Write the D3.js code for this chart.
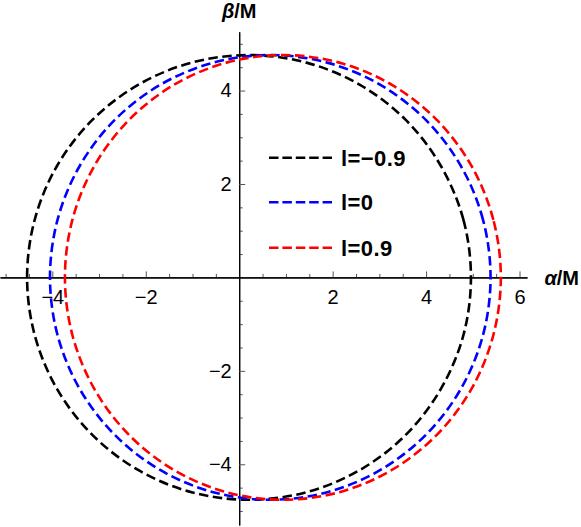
<!DOCTYPE html>
<html>
<head>
<meta charset="utf-8">
<script src="https://cdn.jsdelivr.net/npm/d3@7"></script>
<style>
  body { margin: 0; background: #fff; }
  svg { display: block; font-family: "Liberation Sans", Arial, sans-serif; }
</style>
</head>
<body>
<div id="figure-div"></div>
<script>
// upper half of each shadow curve, [alpha, beta] (lower half is the mirror)
var shadowNeg = [[4.96,0],[4.80,1.232],[4.32,2.38],[3.57,3.366],[2.585,4.122],[1.44,4.598],[0.21,4.76],
  [-1.02,4.598],[-2.165,4.122],[-3.149,3.366],[-3.904,2.38],[-4.378,1.232],[-4.54,0]];
var shadowZero = [[5.38,0],[5.219,1.232],[4.748,2.38],[3.999,3.366],[3.022,4.122],[1.885,4.598],[0.665,4.76],
  [-0.555,4.598],[-1.692,4.122],[-2.669,3.366],[-3.418,2.38],[-3.889,1.232],[-4.05,0]];
var shadowPos = [[5.60,0],[5.44,1.232],[4.975,2.38],[4.234,3.366],[3.268,4.122],[2.142,4.598],[0.935,4.76],
  [-0.272,4.598],[-1.398,4.122],[-2.364,3.366],[-3.105,2.38],[-3.571,1.232],[-3.73,0]];

var seriesNames = ["l=\u22120.9", "l=0", "l=0.9"];
var seriesColors = ["#000000", "#0000ff", "#ff0000"];
var seriesData = [shadowNeg, shadowZero, shadowPos];

var xMajor = [-4, -2, 2, 4, 6];
var yMajor = [-4, -2, 2, 4];

var w = 581;
var h = 527;

var svg = d3.select("#figure-div").append("svg")
	.attr("width", w)
	.attr("height", h);

var xScale = d3.scaleLinear()
	.domain([-5.12, 6.16])
	.range([0, 527]);
var yScale = d3.scaleLinear()
	.domain([5.26, -5.30])
	.range([31.7, 525]);

var xMinor = d3.range(-5, 6.01, 0.5).filter(function(v) { return v % 2 != 0 });
var yMinor = d3.range(-5, 5.01, 0.5).filter(function(v) { return v % 2 != 0 });

// x axis
var gx = svg.append("g")
	.attr("transform", "translate(0," + yScale(0) + ")");
gx.call(d3.axisBottom(xScale).tickValues(xMinor).tickSizeInner(-3.5).tickSizeOuter(0).tickFormat(""));
gx.append("g").call(d3.axisBottom(xScale).tickValues(xMajor).tickSizeInner(-6).tickSizeOuter(0).tickPadding(12));

// y axis
var gy = svg.append("g")
	.attr("transform", "translate(" + xScale(0) + ",0)");
gy.call(d3.axisLeft(yScale).tickValues(yMinor).tickSizeInner(-3.5).tickSizeOuter(0).tickFormat(""));
gy.append("g").call(d3.axisLeft(yScale).tickValues(yMajor).tickSizeInner(-6).tickSizeOuter(0).tickPadding(7.5));

svg.selectAll(".domain").attr("stroke", "#000").attr("stroke-width", 1.1);
svg.selectAll(".tick line").attr("stroke", "#555").attr("stroke-width", 1);
svg.selectAll(".tick text")
	.attr("fill", "#000")
	.style("font-family", "Liberation Sans, Arial, sans-serif")
	.style("font-size", "20px");

// axis labels
var xl = svg.append("text")
	.attr("x", 579)
	.attr("y", 284.5)
	.attr("text-anchor", "end")
	.style("font-size", "20px")
	.style("font-weight", "bold");
xl.append("tspan").style("font-style", "italic").text("\u03b1");
xl.append("tspan").text("/M");

var yl = svg.append("text")
	.attr("x", xScale(0))
	.attr("y", 17.5)
	.attr("text-anchor", "middle")
	.style("font-size", "20px")
	.style("font-weight", "bold");
yl.append("tspan").style("font-style", "italic").text("\u03b2");
yl.append("tspan").text("/M");

// shadow curves
var line = d3.line()
	.x(function(d) { return xScale(d[0]) })
	.y(function(d) { return yScale(d[1]) })
	.curve(d3.curveCatmullRomClosed);

seriesData.forEach(function(pts, i) {
	var lower = pts.slice(1, pts.length - 1).reverse().map(function(p) { return [p[0], -p[1]] });
	svg.append("path")
		.attr("d", line(pts.concat(lower)))
		.attr("fill", "none")
		.attr("stroke", seriesColors[i])
		.attr("stroke-width", 2.6)
		.attr("stroke-dasharray", "9.5,4.5");
});

// legend
var legendY = [157.7, 202.3, 247.7];
seriesNames.forEach(function(name, i) {
	svg.append("line")
		.attr("x1", 269)
		.attr("x2", 332)
		.attr("y1", legendY[i])
		.attr("y2", legendY[i])
		.attr("stroke", seriesColors[i])
		.attr("stroke-width", 2.6)
		.attr("stroke-dasharray", "9.5,3.9");
	svg.append("text")
		.attr("x", 341)
		.attr("y", legendY[i] + 7.8)
		.style("font-size", "22px")
		.style("font-weight", "bold")
		.style("letter-spacing", "0.4px")
		.text(name);
});
</script>
</body>
</html>
